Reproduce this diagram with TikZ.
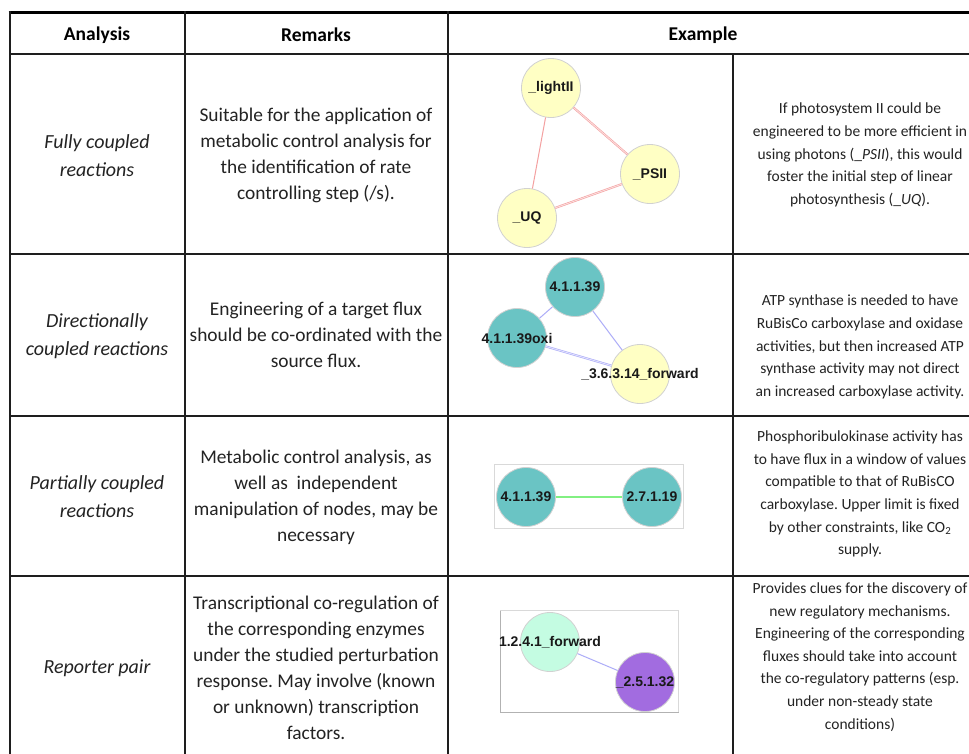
\documentclass[tikz,border=0pt]{standalone}
\usepackage{fontspec}
\setmainfont{Carlito}
\newfontfamily\labelfont{Liberation Sans}
\usetikzlibrary{calc}
\frenchspacing

\definecolor{nodeyellow}{RGB}{255,255,196}
\definecolor{nodeteal}{RGB}{106,196,196}
\definecolor{nodemint}{RGB}{196,252,226}
\definecolor{nodepurple}{RGB}{162,108,224}
\definecolor{edgered}{RGB}{244,160,160}
\definecolor{edgeblue}{RGB}{172,172,248}
\definecolor{edgegreen}{RGB}{130,240,130}
\definecolor{ruleclr}{RGB}{30,30,30}
\definecolor{textclr}{RGB}{35,35,35}

\tikzset{
  rule/.style={draw=ruleclr, line width=2pt},
  toprule/.style={draw=black, line width=3pt},
  headtext/.style={font=\bfseries\fontsize{19.5}{24}\selectfont, text=black, inner sep=0pt},
  analysistext/.style={font=\itshape\fontsize{20}{28}\selectfont, text=textclr, align=center, inner sep=0pt},
  remarktext/.style={font=\fontsize{19.4}{26}\selectfont, text=textclr, align=center, inner sep=0pt},
  exampletext/.style={font=\fontsize{15.5}{22.6}\selectfont, text=textclr, align=center, inner sep=0pt},
  enz/.style={circle, minimum size=59pt, inner sep=0pt, draw=black!18, line width=0.8pt},
  enzlabel/.style={font=\labelfont\bfseries\fontsize{14}{16}\selectfont, text=black!90, inner sep=0pt},
  link/.style={line width=1pt},
  dlink/.style={line width=0.6pt, double distance=0.9pt},
  framebox/.style={draw=black!15, line width=0.8pt},
}

\begin{document}
\begin{tikzpicture}[x=1pt, y=-1pt]
\useasboundingbox (0,0) rectangle (969,753);
\fill[white] (0,0) rectangle (969,753);

% table rules
\begin{scope}
\clip (0,0) rectangle (969,753);
\draw[toprule] (8.5,12) -- (1000,12);
\draw[rule] (10,11) -- (10,780);
\draw[rule] (184.5,11) -- (184.5,780);
\draw[rule] (448,11) -- (448,780);
\draw[rule] (732.5,54) -- (732.5,780);
\draw[rule] (9,54) -- (1000,54);
\draw[rule] (9,254) -- (1000,254);
\draw[rule] (9,416) -- (1000,416);
\draw[rule] (9,576) -- (1000,576);
\end{scope}

% header
\node[headtext] (hA) at (97,35) {Analysis};
\node[headtext] (hR) at (316,35) {Remarks};
\node[headtext] (hE) at (703,35) {Example};

% row 1: fully coupled
\node[analysistext] (a1) at (97,156) {Fully coupled\\reactions};
\node[remarktext] (r1) at (316,155) {Suitable for the application of\\metabolic control analysis for\\the identification of rate\\controlling step (/s).};
\node[exampletext] (e1) at (860,155) {If photosystem II could be\\engineered to be more efficient in\\using photons (\_\textit{PSII}), this would\\foster the initial step of linear\\photosynthesis (\_\textit{UQ}).};

\node[enz, fill=nodeyellow] (light) at (551,88) {};
\node[enz, fill=nodeyellow] (psii) at (650,174) {};
\node[enz, fill=nodeyellow] (uq) at (527,218) {};
\draw[link, edgered] (light) -- (uq);
\draw[dlink, draw=edgered, double=edgered!35] (light) -- (psii);
\draw[dlink, draw=edgered, double=edgered!35] (psii) -- (uq);
\node[enzlabel] at (light.center) {\_lightII};
\node[enzlabel] at (psii.center) {\_PSII};
\node[enzlabel] at (uq.center) {\_UQ};

% row 2: directionally coupled
\node[analysistext] (a2) at (97,336) {Directionally\\coupled reactions};
\node[remarktext] (r2) at (316,335) {Engineering of a target flux\\should be co-ordinated with the\\source flux.};
\node[exampletext] (e2) at (860,347) {ATP synthase is needed to have\\RuBisCo carboxylase and oxidase\\activities, but then increased ATP\\synthase activity may not direct\\an increased carboxylase activity.};

\node[enz, fill=nodeteal] (rbc) at (575,287) {};
\node[enz, fill=nodeteal] (rbo) at (517,338) {};
\node[enz, fill=nodeyellow] (atp) at (640,374) {};
\draw[link, edgeblue] (rbc) -- (rbo);
\draw[link, edgeblue] (rbc) -- (atp);
\draw[dlink, draw=edgeblue, double=edgeblue!35] (rbo) -- (atp);
\node[enzlabel] at (rbc.center) {4.1.1.39};
\node[enzlabel] at (rbo.center) {4.1.1.39oxi};
\node[enzlabel] at (atp.center) {\_3.6.3.14\_forward};

% row 3: partially coupled
\node[analysistext] (a3) at (97,497) {Partially coupled\\reactions};
\node[remarktext] (r3) at (316,497) {Metabolic control analysis, as\\well as\ \ independent\\manipulation of nodes, may be\\necessary};
\node[exampletext] (e3) at (860,494) {Phosphoribulokinase activity has\\to have flux in a window of values\\compatible to that of RuBisCO\\carboxylase. Upper limit is fixed\\by other constraints, like CO\textsubscript{2}\\supply.};

\draw[framebox] (494.5,464.5) rectangle (683.5,528.5);
\node[enz, fill=nodeteal] (rbc3) at (526,497) {};
\node[enz, fill=nodeteal] (prk) at (652,497) {};
\draw[edgegreen, line width=1.4pt] (rbc3) -- (prk);
\node[enzlabel] at (rbc3.center) {4.1.1.39};
\node[enzlabel] at (prk.center) {2.7.1.19};

% row 4: reporter pair
\node[analysistext] (a4) at (97,668) {Reporter pair};
\node[remarktext] (r4) at (316,668) {Transcriptional co-regulation of\\the corresponding enzymes\\under the studied perturbation\\response. May involve (known\\or unknown) transcription\\factors.};
\node[exampletext] (e4) at (860,657) {Provides clues for the discovery of\\new regulatory mechanisms.\\Engineering of the corresponding\\fluxes should take into account\\the co-regulatory patterns (esp.\\under non-steady state\\conditions)};

\draw[framebox] (500.5,610.5) rectangle (678.5,712.5);
\draw[draw=black!30, line width=0.8pt] (500.5,610.5) -- (500.5,712.5) -- (678.5,712.5);
\node[enz, fill=nodemint] (pdh) at (550,642) {};
\node[enz, fill=nodepurple] (trp) at (645,682) {};
\draw[link, edgeblue] (pdh) -- (trp);
\node[enzlabel] at (pdh.center) {1.2.4.1\_forward};
\node[enzlabel] at (trp.center) {\_2.5.1.32};
\end{tikzpicture}
\end{document}
